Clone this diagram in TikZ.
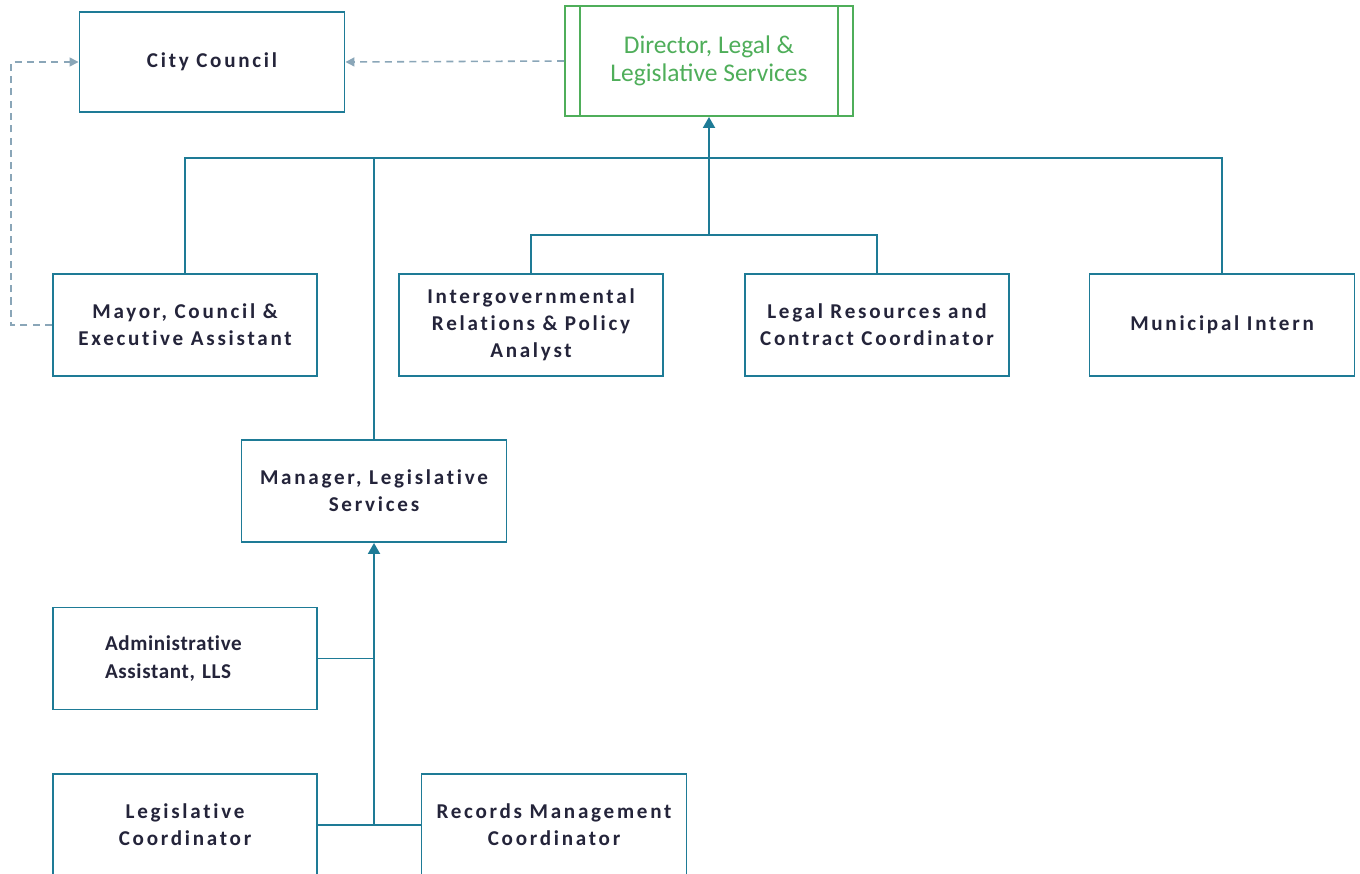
\documentclass[tikz,border=0pt]{standalone}
\usepackage{fontspec}
\setmainfont{Carlito}
\newfontfamily\boxfont[LetterSpace=13, Ligatures={NoCommon}]{Carlito}
\newfontfamily\tightfont[LetterSpace=3, Ligatures={NoCommon}]{Carlito}
\usetikzlibrary{arrows.meta, positioning, calc}
\definecolor{orgteal}{HTML}{1E7B96}
\definecolor{orggreen}{HTML}{4FAE5A}
\definecolor{orgdash}{HTML}{8AA6B8}
\definecolor{orgtext}{HTML}{24243A}

\begin{document}
\begin{tikzpicture}[
    role/.style    = {draw=orgteal, line width=1.1pt, fill=white, align=center,
                      minimum width=5.3cm, minimum height=2.04cm, inner sep=2pt,
                      font=\boxfont\fontsize{12}{15.5}\selectfont\bfseries, text=orgtext},
    head/.style    = {draw=orggreen, line width=1.1pt, fill=white, align=center,
                      minimum width=5.76cm, minimum height=2.2cm,
                      font=\fontsize{14.5}{16}\selectfont, text=orggreen},
    link/.style    = {line width=1.1pt, orgteal},
    reportup/.style = {-{Triangle[length=2.2mm, width=2.4mm]}, line width=1.1pt, orgteal},
    dotted line/.style = {-{Triangle[length=1.8mm, width=1.8mm]}, line width=0.9pt,
                      orgdash, dash pattern=on 4pt off 3pt},
]

% fixed canvas, same proportions as the chart page
\useasboundingbox (0,0) rectangle (27.2,-17.46);

% --- top row ---------------------------------------------------------
\node[role, minimum height=2.0cm] (council) at (4.24,-1.24) {City Council};
\node[head] (director) at (14.18,-1.22) {Director, Legal \&\\Legislative Services};
\draw[orggreen, line width=1.1pt]
     ([xshift=3.2mm]director.north west) -- ([xshift=3.2mm]director.south west)
     ([xshift=-3.2mm]director.north east) -- ([xshift=-3.2mm]director.south east);

% --- direct reports --------------------------------------------------
\node[role, minimum width=5.28cm] (mayor)    at (3.70,-6.50)  {Mayor, Council \&\\Executive Assistant};
\node[role, minimum width=5.28cm] (intergov) at (10.62,-6.50) {Intergovernmental\\Relations \& Policy\\Analyst};
\node[role, minimum width=5.28cm] (legal)    at (17.54,-6.50) {Legal Resources and\\Contract Coordinator};
\node[role] (intern)  at (24.44,-6.50) {Municipal Intern};
\node[role] (manager) at (7.48,-9.82)  {Manager, Legislative\\Services};

% --- legislative services team ---------------------------------------
\node[role, minimum width=5.28cm, align=left, text width=3.2cm,
      font=\tightfont\fontsize{12}{15.5}\selectfont\bfseries] (admin) at (3.70,-13.17) {Administrative\\Assistant, LLS};
\node[role, minimum width=5.28cm] (legcoord) at (3.70,-16.50) {Legislative\\Coordinator};
\node[role] (records) at (11.08,-16.50) {Records Management\\Coordinator};

% --- reporting lines -------------------------------------------------
\coordinate (bus)   at (0,-3.16);
\coordinate (split) at (0,-4.70);

\draw[link] (mayor.north) -- (mayor.north |- bus) -- (intern.north |- bus) -- (intern.north);
\draw[link] (manager.north) -- (manager.north |- bus);
\draw[link] (intergov.north) -- (intergov.north |- split) -- (legal.north |- split) -- (legal.north);
\draw[reportup] (director.south |- split) -- (director.south);

\draw[link] (legcoord.east) -- (records.west);
\draw[link] (admin.east) -- (admin.east -| manager.south);
\draw[reportup] (manager.south |- legcoord) -- (manager.south);

% dotted reporting to council
\draw[dotted line] (director.west) -- (council.east);
\draw[dotted line] (mayor.west) -- ++(-0.82,0) |- (council.west);

\end{tikzpicture}
\end{document}
